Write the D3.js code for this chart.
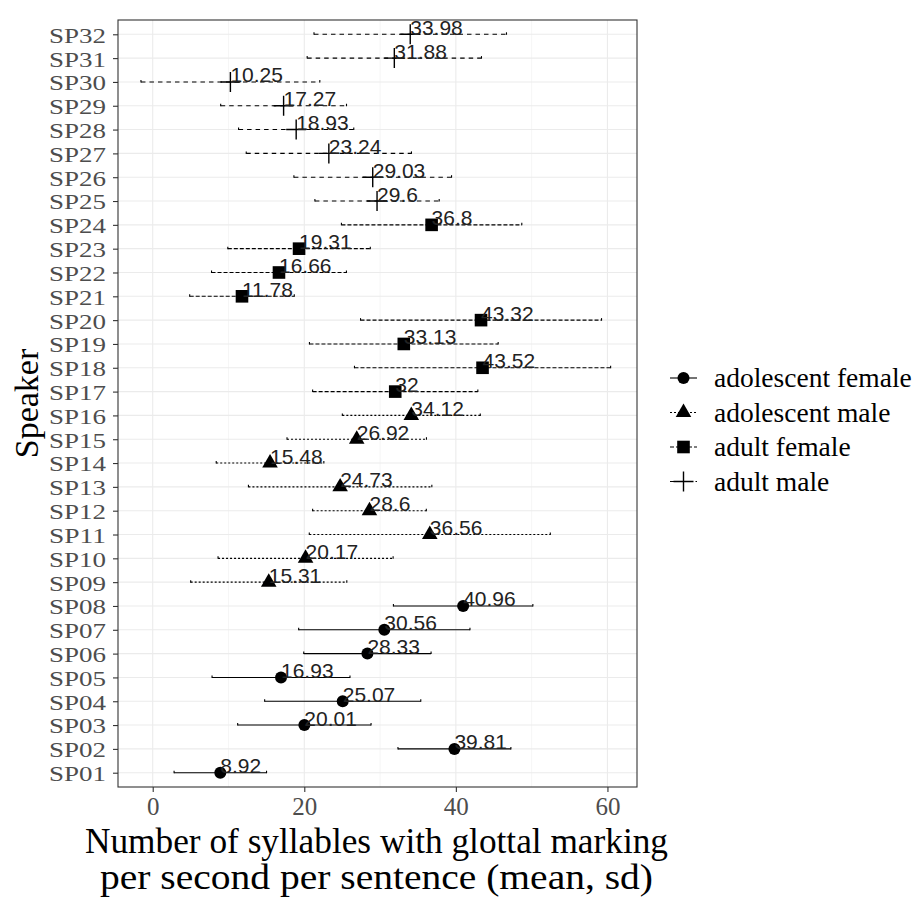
<!DOCTYPE html>
<html>
<head>
<meta charset="utf-8">
<script src="https://cdn.jsdelivr.net/npm/d3@7"></script>
<style>
  body { margin: 0; background: #fff; }
  svg { display: block; }
</style>
</head>
<body>
<div id="chart"></div>
<script>
// speaker data, SP01 .. SP32
var speakers = d3.range(1, 33).map(function (i) { return "SP" + (i < 10 ? "0" + i : i); });

var groups = [
  "adolescent female", "adolescent female", "adolescent female", "adolescent female",
  "adolescent female", "adolescent female", "adolescent female", "adolescent female",
  "adolescent male", "adolescent male", "adolescent male", "adolescent male",
  "adolescent male", "adolescent male", "adolescent male", "adolescent male",
  "adult female", "adult female", "adult female", "adult female",
  "adult female", "adult female", "adult female", "adult female",
  "adult male", "adult male", "adult male", "adult male",
  "adult male", "adult male", "adult male", "adult male"
];

var means = [8.92, 39.81, 20.01, 25.07, 16.93, 28.33, 30.56, 40.96,
             15.31, 20.17, 36.56, 28.6, 24.73, 15.48, 26.92, 34.12,
             32, 43.52, 33.13, 43.32, 11.78, 16.66, 19.31, 36.8,
             29.6, 29.03, 23.24, 18.93, 17.27, 10.25, 31.88, 33.98];

var sds = [6.1, 7.45, 8.8, 10.3, 9.1, 8.4, 11.3, 9.2,
           10.3, 11.55, 15.9, 7.5, 12.1, 7.1, 9.2, 9.1,
           10.9, 16.9, 12.45, 15.9, 6.9, 8.9, 9.4, 11.9,
           8.2, 10.4, 10.9, 7.6, 8.3, 11.8, 11.5, 12.7];

var groupNames = ["adolescent female", "adolescent male", "adult female", "adult male"];
var xTicks = [0, 20, 40, 60];
var xMinor = [10, 30, 50];

var width = 917, height = 898
  , panel = { left: 118, right: 637, top: 20, bottom: 787 }
  , serif = "'Liberation Serif', 'Times New Roman', serif"
  , dashes = { "adolescent female": null, "adolescent male": "2,2", "adult female": "4,2", "adult male": "4.5,4" };

var rows = speakers.map(function (s, i) {
  return { speaker: s, group: groups[i], mean: means[i], sd: sds[i] };
});

var svg = d3.select("#chart").append("svg")
  .attr("width", width)
  .attr("height", height);

var x = d3.scaleLinear()
  .domain([-4.58, 63.9])
  .range([panel.left, panel.right]);

var y = d3.scalePoint()
  .domain(speakers)
  .range([panel.bottom, panel.top])
  .padding(0.6);

// grid
var grid = svg.append("g");
grid.selectAll(".minor").data(xMinor).enter().append("line")
  .attr("x1", function (d) { return x(d); }).attr("x2", function (d) { return x(d); })
  .attr("y1", panel.top).attr("y2", panel.bottom)
  .attr("stroke", "#f0f0f0").attr("stroke-width", 0.6);
grid.selectAll(".major").data(xTicks).enter().append("line")
  .attr("x1", function (d) { return x(d); }).attr("x2", function (d) { return x(d); })
  .attr("y1", panel.top).attr("y2", panel.bottom)
  .attr("stroke", "#ebebeb").attr("stroke-width", 1.1);
grid.selectAll(".hmajor").data(speakers).enter().append("line")
  .attr("x1", panel.left).attr("x2", panel.right)
  .attr("y1", function (d) { return y(d); }).attr("y2", function (d) { return y(d); })
  .attr("stroke", "#ebebeb").attr("stroke-width", 1.1);

// axes
var xAxis = svg.append("g")
  .attr("transform", "translate(0," + panel.bottom + ")")
  .call(d3.axisBottom(x).tickValues(xTicks).tickSize(5).tickPadding(4));
var yAxis = svg.append("g")
  .attr("transform", "translate(" + panel.left + ",0)")
  .call(d3.axisLeft(y).tickSize(5).tickPadding(7));

[xAxis, yAxis].forEach(function (a) {
  a.select(".domain").remove();
  a.selectAll(".tick line").attr("stroke", "#333").attr("stroke-width", 1.1);
  a.selectAll(".tick text")
    .attr("fill", "#4d4d4d")
    .style("font-family", serif)
    .style("font-size", "25px");
});
xAxis.selectAll(".tick text").attr("dy", "0.75em");
yAxis.selectAll(".tick text")
  .style("font-size", "22px")
  .attr("dy", "0.36em").attr("textLength", 57).attr("lengthAdjust", "spacingAndGlyphs");

// error bars
var bars = svg.append("g").selectAll("g").data(rows).enter().append("g")
  .attr("stroke", "#000").attr("stroke-width", 1.1).attr("fill", "none");
bars.append("line")
  .attr("x1", function (d) { return x(d.mean - d.sd); })
  .attr("x2", function (d) { return x(d.mean + d.sd); })
  .attr("y1", function (d) { return y(d.speaker); })
  .attr("y2", function (d) { return y(d.speaker); })
  .attr("stroke-dasharray", function (d) { return dashes[d.group]; });
bars.selectAll(".cap")
  .data(function (d) { return [[d.mean - d.sd, d.speaker], [d.mean + d.sd, d.speaker]]; })
  .enter().append("line")
  .attr("x1", function (d) { return x(d[0]); }).attr("x2", function (d) { return x(d[0]); })
  .attr("y1", function (d) { return y(d[1]) - 2; }).attr("y2", function (d) { return y(d[1]) + 0.5; });

// point shapes
function drawShape(sel, group) {
  if (group == "adolescent female") {
    sel.append("circle").attr("r", 6).attr("fill", "#000");
  } else if (group == "adolescent male") {
    sel.append("path").attr("d", d3.symbol(d3.symbolTriangle, 105)()).attr("fill", "#000");
  } else if (group == "adult female") {
    sel.append("rect").attr("x", -6.3).attr("y", -6.3).attr("width", 12.6).attr("height", 12.6).attr("fill", "#000");
  } else {
    sel.append("path").attr("d", "M-10,0H10M0,-10V10").attr("stroke", "#000").attr("stroke-width", 1.4);
  }
}

svg.append("g").selectAll("g").data(rows).enter().append("g")
  .attr("transform", function (d) { return "translate(" + x(d.mean) + "," + y(d.speaker) + ")"; })
  .each(function (d) { drawShape(d3.select(this), d.group); });

// value labels
svg.append("g").selectAll("text").data(rows).enter().append("text")
  .attr("x", function (d) { return x(d.mean); })
  .attr("y", function (d) { return y(d.speaker) + 0.5; })
  .attr("fill", "#222")
  .style("font-family", "'Liberation Sans', Arial, sans-serif")
  .style("font-size", "21px")
  .text(function (d) { return d.mean; });

// panel border
svg.append("rect")
  .attr("x", panel.left).attr("y", panel.top)
  .attr("width", panel.right - panel.left).attr("height", panel.bottom - panel.top)
  .attr("fill", "none").attr("stroke", "#333").attr("stroke-width", 1.1);

// axis titles
var xt = svg.append("text")
  .attr("text-anchor", "middle")
  .style("font-family", serif).style("font-size", "35px")
  .attr("fill", "#000");
xt.append("tspan").attr("x", 376.5).attr("y", 853)
  .attr("textLength", 583).attr("lengthAdjust", "spacingAndGlyphs")
  .text("Number of syllables with glottal marking");
xt.append("tspan").attr("x", 376.5).attr("y", 889)
  .attr("textLength", 553).attr("lengthAdjust", "spacingAndGlyphs")
  .text("per second per sentence (mean, sd)");

svg.append("text")
  .attr("transform", "translate(38," + (panel.top + panel.bottom) / 2 + ") rotate(-90)")
  .attr("text-anchor", "middle")
  .style("font-family", serif).style("font-size", "34px")
  .attr("fill", "#000")
  .text("Speaker");

// legend
var legend = svg.append("g").attr("transform", "translate(670,378)");
var item = legend.selectAll("g").data(groupNames).enter().append("g")
  .attr("transform", function (d, i) { return "translate(0," + i * 34.5 + ")"; });
item.append("line")
  .attr("x1", 0).attr("x2", 27)
  .attr("stroke", "#000").attr("stroke-width", 1.1)
  .attr("stroke-dasharray", function (d) { return dashes[d]; });
item.append("g").attr("transform", "translate(13.5,0)")
  .each(function (d) { drawShape(d3.select(this), d); });
item.append("text")
  .attr("x", 44).attr("dy", "0.33em")
  .style("font-family", serif).style("font-size", "27.5px")
  .attr("fill", "#000")
  .text(function (d) { return d; });
</script>
</body>
</html>
